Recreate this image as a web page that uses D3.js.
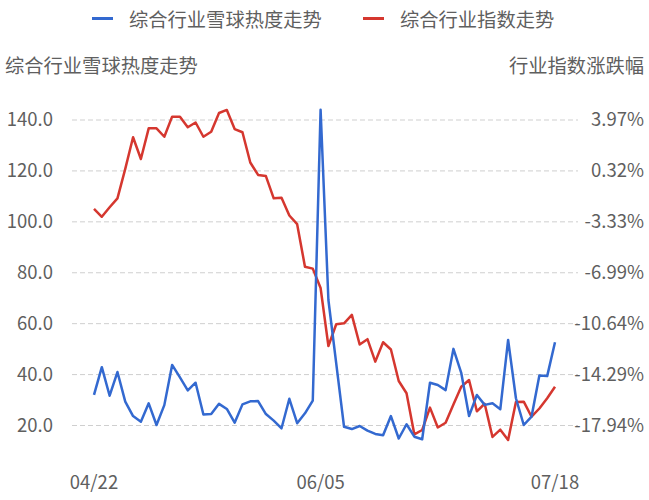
<!DOCTYPE html>
<html>
<head>
<meta charset="utf-8">
<script src="https://cdn.jsdelivr.net/npm/d3@7/dist/d3.min.js"></script>
<style>
  body { margin: 0; background: #fff; }
  svg text { font-family: "Noto Sans CJK SC", "Noto Sans", sans-serif; fill: #5f5f5f; }
</style>
</head>
<body>
<div id="chart"></div>
<script>
// heat trend (left axis)
const heatValues = [
  32.0, 42.9, 31.7, 41.0, 29.4, 23.7, 21.5, 28.7, 20.2, 28.0,
  43.8, 38.9, 33.8, 36.8, 24.3, 24.5, 28.5, 26.5, 21.1, 28.3,
  29.5, 29.6, 24.5, 21.9, 18.9, 30.5, 20.9, 24.8, 29.8, 144.0,
  69.3, 44.4, 19.5, 18.6, 19.8, 18.0, 16.7, 16.2, 23.7, 14.9,
  20.5, 15.6, 14.6, 36.8, 35.9, 33.9, 50.1, 40.7, 23.7, 32.0,
  28.1, 28.7, 26.4, 53.6, 30.7, 20.2, 23.5, 39.6, 39.4, 52.7
];

// index change in % (right axis)
const indexValues = [
  -2.41, -2.97, -2.29, -1.65, 0.46, 2.73, 1.17, 3.37, 3.37, 2.77,
  4.21, 4.21, 3.45, 3.79, 2.77, 3.13, 4.47, 4.69, 3.32, 3.09,
  0.92, 0.03, -0.05, -1.65, -1.60, -2.88, -3.50, -6.55, -6.69, -8.08,
  -12.24, -10.68, -10.61, -10.01, -12.13, -11.75, -13.36, -11.97, -12.49, -14.75,
  -15.63, -18.58, -18.26, -16.66, -18.08, -17.74, -16.43, -15.16, -14.68, -16.92,
  -16.38, -18.76, -18.24, -18.98, -16.25, -16.23, -17.31, -16.72, -15.99, -15.16
];

const leftTicks = [20, 40, 60, 80, 100, 120, 140];
const rightTicks = [-17.94, -14.29, -10.64, -6.99, -3.33, 0.32, 3.97];
const dateLabels = ["04/22", "06/05", "07/18"];
const dateIndex = [0, 29, 59];

const heatName = "综合行业雪球热度走势";
const indexName = "综合行业指数走势";
const rightAxisName = "行业指数涨跌幅";

const width = 649, height = 500;
const blue = "#3369d0", red = "#d5372f";

const svg = d3.select("#chart").append("svg")
  .attr("width", width)
  .attr("height", height);

const x = d3.scalePoint()
  .domain(d3.range(heatValues.length))
  .range([94, 555]);

const yLeft = d3.scaleLinear().domain([20, 140]).range([425.5, 120]);
const yRight = d3.scaleLinear().domain([-17.94, 3.97]).range([425.5, 120]);

// grid lines
svg.append("g")
  .selectAll("line")
  .data(leftTicks)
  .enter().append("line")
  .attr("x1", 72)
  .attr("x2", 578)
  .attr("y1", d => yLeft(d))
  .attr("y2", d => yLeft(d))
  .attr("stroke", "#cfcfcf")
  .attr("stroke-width", 1)
  .attr("stroke-dasharray", "5,3");

// left axis labels
const leftAxis = d3.axisLeft(yLeft)
  .tickValues(leftTicks)
  .tickFormat(d3.format(".1f"))
  .tickSize(0)
  .tickPadding(0);

const gl = svg.append("g").attr("transform", "translate(53,0)").call(leftAxis);
gl.select(".domain").remove();
gl.selectAll("text").attr("font-size", 18.5).attr("fill", "#5f5f5f");

// right axis labels
const rightAxis = d3.axisRight(yRight)
  .tickValues(rightTicks)
  .tickFormat(d => d.toFixed(2) + "%")
  .tickSize(0)
  .tickPadding(0);

const gr = svg.append("g").attr("transform", "translate(644,0)").call(rightAxis);
gr.select(".domain").remove();
gr.selectAll("text").attr("font-size", 18.5).attr("text-anchor", "end").attr("fill", "#5f5f5f");

// x axis labels
svg.append("g")
  .selectAll("text")
  .data(dateIndex)
  .enter().append("text")
  .attr("x", d => x(d))
  .attr("y", 481)
  .attr("text-anchor", "middle")
  .attr("dominant-baseline", "central")
  .attr("font-size", 18.5)
  .text((d, i) => dateLabels[i]);

// lines
const heatLine = d3.line()
  .x((d, i) => x(i))
  .y(d => yLeft(d));

const indexLine = d3.line()
  .x((d, i) => x(i))
  .y(d => yRight(d));

svg.append("path")
  .datum(indexValues)
  .attr("d", indexLine)
  .attr("fill", "none")
  .attr("stroke", red)
  .attr("stroke-width", 2.5)
  .attr("stroke-linejoin", "round");

svg.append("path")
  .datum(heatValues)
  .attr("d", heatLine)
  .attr("fill", "none")
  .attr("stroke", blue)
  .attr("stroke-width", 2.5)
  .attr("stroke-linejoin", "round");

// axis names
svg.append("text")
  .attr("x", 5)
  .attr("y", 65)
  .attr("dominant-baseline", "central")
  .attr("font-size", 19.3)
  .text(heatName);

svg.append("text")
  .attr("x", 644)
  .attr("y", 65)
  .attr("text-anchor", "end")
  .attr("dominant-baseline", "central")
  .attr("font-size", 19.3)
  .text(rightAxisName);

// legend
const legendItems = [
  { name: heatName, color: blue, x: 92 },
  { name: indexName, color: red, x: 363 }
];

const legend = svg.append("g")
  .selectAll("g")
  .data(legendItems)
  .enter().append("g")
  .attr("transform", d => `translate(${d.x},18.5)`);

legend.append("line")
  .attr("x1", 0)
  .attr("x2", 21)
  .attr("stroke", d => d.color)
  .attr("stroke-width", 3);

legend.append("text")
  .attr("x", 37)
  .attr("dominant-baseline", "central")
  .attr("font-size", 19.3)
  .text(d => d.name);
</script>
</body>
</html>
